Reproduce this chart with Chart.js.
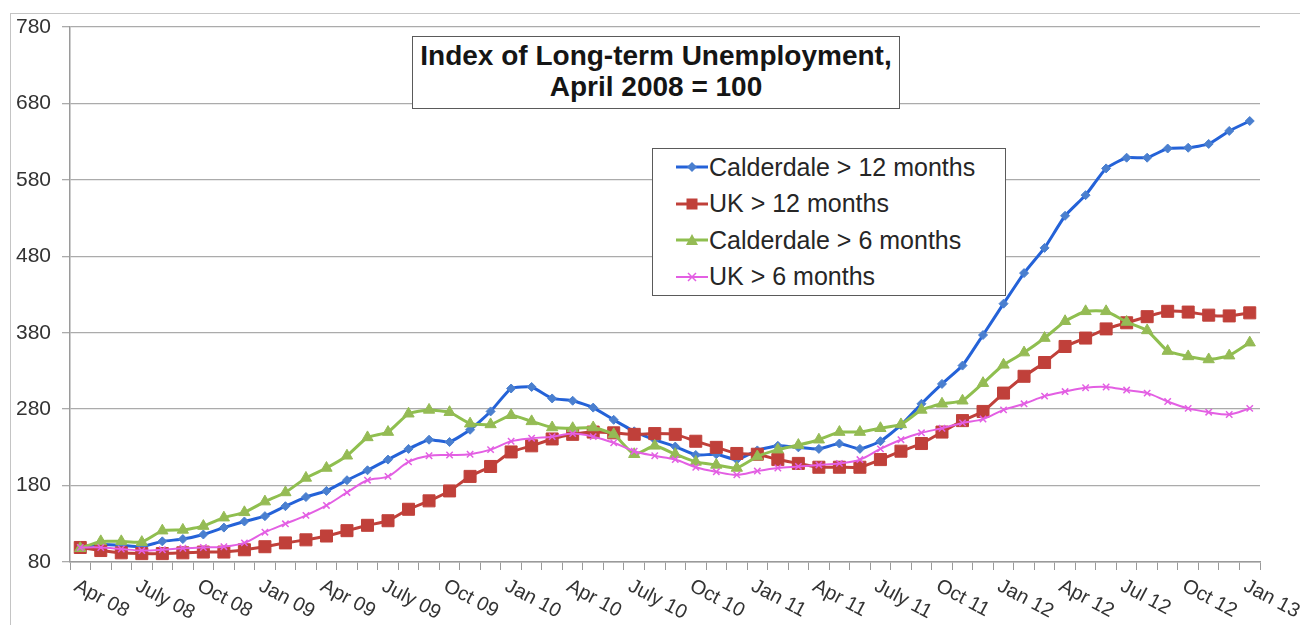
<!DOCTYPE html>
<html>
<head>
<meta charset="utf-8">
<script src="https://cdn.jsdelivr.net/npm/chart.js@4.4.1/dist/chart.umd.min.js"></script>
<style>
  html, body { margin: 0; padding: 0; background: #fff; }
  #wrap { position: relative; width: 1300px; height: 625px; overflow: hidden; font-family: "Liberation Sans", Arial, sans-serif; }
  #frame { position: absolute; left: 10px; top: 13px; right: -2px; bottom: -2px; border-top: 1px solid #c4c4c4; border-left: 1px solid #c4c4c4; }
  #c { position: absolute; left: 0; top: 0; }
  #title { position: absolute; left: 412px; top: 36px; width: 486px; height: 68px; background: #fff; border: 1.5px solid #5a5a5a;
           font-weight: bold; font-size: 28px; line-height: 31px; color: #151515; text-align: center; padding-top: 3px; }
  #legend { position: absolute; left: 652px; top: 148px; width: 352px; height: 146px; background: #fff; border: 1.5px solid #5a5a5a; }
  .row { height: 36.5px; display: flex; align-items: center; padding-left: 23px; font-size: 25px; color: #262626; }
  .row svg { margin-right: 1px; }
</style>
</head>
<body>
<div id="wrap">
  <div id="frame"></div>
  <canvas id="c" width="1300" height="625"></canvas>
  <div id="title">Index of Long-term Unemployment,<br>April 2008 = 100</div>
  <div id="legend"></div>
</div>
<script>
// ==========================================
// DATA
// ==========================================
const months = [
  'Apr 08', 'May 08', 'Jun 08', 'July 08', 'Aug 08', 'Sep 08', 'Oct 08', 'Nov 08', 'Dec 08',
  'Jan 09', 'Feb 09', 'Mar 09', 'Apr 09', 'May 09', 'Jun 09', 'July 09', 'Aug 09', 'Sep 09',
  'Oct 09', 'Nov 09', 'Dec 09', 'Jan 10', 'Feb 10', 'Mar 10', 'Apr 10', 'May 10', 'Jun 10',
  'July 10', 'Aug 10', 'Sep 10', 'Oct 10', 'Nov 10', 'Dec 10', 'Jan 11', 'Feb 11', 'Mar 11',
  'Apr 11', 'May 11', 'Jun 11', 'July 11', 'Aug 11', 'Sep 11', 'Oct 11', 'Nov 11', 'Dec 11',
  'Jan 12', 'Feb 12', 'Mar 12', 'Apr 12', 'May 12', 'Jun 12', 'Jul 12', 'Aug 12', 'Sep 12',
  'Oct 12', 'Nov 12', 'Dec 12', 'Jan 13'
];

const calderdale12 = [
  100, 103, 102, 100, 107, 110, 116, 125, 133, 140, 153, 165, 173, 187, 200, 214, 228, 240,
  237, 253, 277, 307, 309, 294, 291, 282, 266, 251, 240, 231, 220, 221, 214, 226, 232, 230,
  228, 235, 228, 238, 259, 287, 313, 337, 377, 418, 458, 491, 533, 560, 595, 609, 609, 621,
  622, 627, 644, 657
];

const uk12 = [
  99, 95, 92, 91, 91, 92, 93, 93, 96, 100, 105, 109, 114, 121, 128, 134, 149, 160,
  173, 192, 205, 224, 232, 241, 247, 250, 249, 247, 248, 247, 238, 230, 222, 221, 214, 209,
  204, 204, 204, 214, 225, 235, 250, 265, 277, 301, 323, 341, 362, 373, 385, 393, 401, 408,
  407, 403, 402, 406
];

const calderdale6 = [
  98, 107, 107, 106, 121, 122, 127, 138, 145, 159, 171, 190, 203, 219, 243, 250, 274, 279,
  276, 261, 260, 272, 264, 256, 255, 256, 247, 221, 232, 221, 211, 207, 203, 218, 227, 233,
  240, 250, 250, 255, 260, 279, 287, 291, 314, 338, 354, 373, 395, 408, 408, 394, 383, 356,
  349, 345, 350, 367
];

const uk6 = [
  99, 99, 97, 95, 96, 98, 99, 100, 105, 119, 130, 141, 154, 171, 187, 192, 211, 219,
  220, 221, 227, 238, 242, 244, 248, 244, 236, 225, 219, 214, 204, 198, 194, 199, 203, 205,
  207, 209, 214, 228, 240, 249, 255, 262, 267, 279, 287, 297, 303, 308, 309, 305, 301, 290,
  281, 276, 273, 281
];

const seriesNames = ['Calderdale > 12 months', 'UK > 12 months', 'Calderdale > 6 months', 'UK > 6 months'];
const yTicks = [80, 180, 280, 380, 480, 580, 680, 780];

// ==========================================
// STYLES
// ==========================================
const styles = [
  { line: '#2462d8', fill: '#4a7fcf', marker: 'rectRot', radius: 4.5, width: 3 },
  { line: '#c0403a', fill: '#c0403a', marker: 'rect', radius: 8.5, width: 3 },
  { line: '#8fbf4f', fill: '#95bb55', marker: 'triangle', radius: 6.5, width: 3 },
  { line: '#e35fe3', fill: '#e35fe3', marker: 'crossRot', radius: 4.5, width: 2 }
];
const seriesData = [calderdale12, uk12, calderdale6, uk6];

// slanted month labels (every quarter), drawn off the category scale
const slantedLabels = {
  id: 'slantedLabels',
  afterDraw(chart) {
    const { ctx } = chart;
    const x = chart.scales.x;
    ctx.save();
    ctx.font = '20px "Liberation Sans", Arial, sans-serif';
    ctx.fillStyle = '#333';
    ctx.textAlign = 'left';
    ctx.textBaseline = 'top';
    months.forEach((lab, i) => {
      if (i % 3 !== 0) return;
      const px = x.getPixelForValue(i);
      ctx.save();
      ctx.translate(px, x.top + 14);
      ctx.rotate(28 * Math.PI / 180);
      ctx.fillText(lab, 0, 0);
      ctx.restore();
    });
    ctx.restore();
  }
};

const datasets = seriesData.map((d, i) => ({
  label: seriesNames[i],
  data: d,
  borderColor: styles[i].line,
  backgroundColor: styles[i].fill,
  borderWidth: styles[i].width,
  pointStyle: styles[i].marker,
  pointRadius: styles[i].radius,
  pointBackgroundColor: styles[i].fill,
  pointBorderColor: styles[i].fill,
  pointBorderWidth: i === 3 ? 1.5 : 1,
  tension: i === 3 ? 0.35 : 0.15,
  order: 3 - i
}));

new Chart(document.getElementById('c'), {
  type: 'line',
  data: { labels: months, datasets },
  options: {
    responsive: false,
    animation: false,
    devicePixelRatio: 1,
    layout: { padding: { top: 27, right: 40, left: 0, bottom: 0 } },
    plugins: { legend: { display: false }, tooltip: { enabled: false } },
    scales: {
      x: {
        offset: true,
        grid: { offset: true, drawOnChartArea: false, drawTicks: true, tickLength: 8, color: '#9a9a9a', lineWidth: 1 },
        border: { display: true, color: '#9a9a9a', width: 1.5 },
        ticks: { display: false, autoSkip: false },
        afterFit: (scale) => { scale.height = 63; }
      },
      y: {
        min: 80,
        max: 780,
        afterBuildTicks: (scale) => { scale.ticks = yTicks.map(v => ({ value: v })); },
        grid: { color: '#ababab', lineWidth: 1.3, tickLength: 8 },
        border: { display: true, color: '#9a9a9a', width: 1.5 },
        ticks: { color: '#333', padding: 11, font: { family: '"Liberation Sans", Arial, sans-serif', size: 21 } },
        afterFit: (scale) => { scale.width = 70; }
      }
    }
  },
  plugins: [slantedLabels]
});

// ==========================================
// LEGEND (html box with svg samples)
// ==========================================
const markerSvg = (s) => {
  const c = 16, m = 12;
  let mk = '';
  if (s.marker === 'rectRot') mk = `<polygon points="${c},${m - 5} ${c + 5},${m} ${c},${m + 5} ${c - 5},${m}" fill="${s.fill}"/>`;
  else if (s.marker === 'rect') mk = `<rect x="${c - 5.5}" y="${m - 5.5}" width="11" height="11" fill="${s.fill}"/>`;
  else if (s.marker === 'triangle') mk = `<polygon points="${c},${m - 6} ${c + 6},${m + 5} ${c - 6},${m + 5}" fill="${s.fill}"/>`;
  else mk = `<path d="M${c - 4} ${m - 4} L${c + 4} ${m + 4} M${c + 4} ${m - 4} L${c - 4} ${m + 4}" stroke="${s.fill}" stroke-width="1.5"/>`;
  return `<svg width="32" height="24"><line x1="0" y1="${m}" x2="32" y2="${m}" stroke="${s.line}" stroke-width="${s.width}"/>${mk}</svg>`;
};

const legend = document.getElementById('legend');
seriesNames.forEach((name, i) => {
  const row = document.createElement('div');
  row.className = 'row';
  row.innerHTML = markerSvg(styles[i]) + `<span>${name}</span>`;
  legend.appendChild(row);
});
</script>
</body>
</html>
